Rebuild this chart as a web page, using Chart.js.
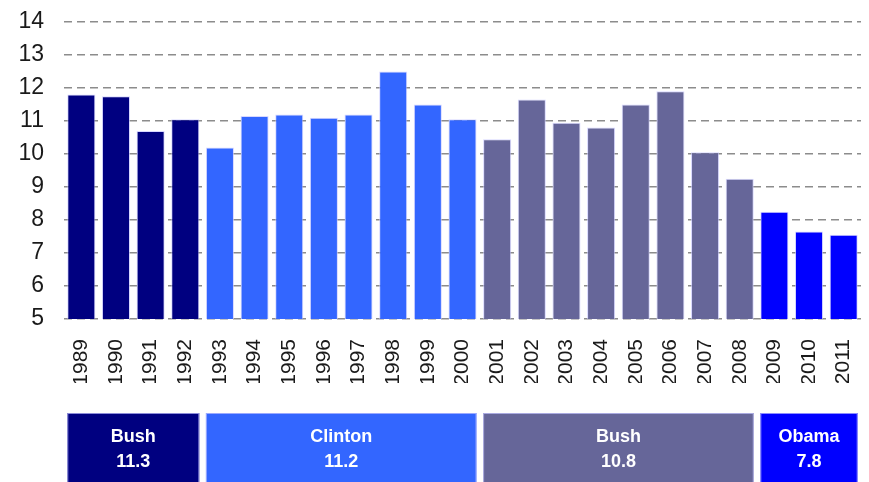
<!DOCTYPE html>
<html>
<head>
<meta charset="utf-8">
<script src="https://cdn.jsdelivr.net/npm/chart.js@4/dist/chart.umd.min.js"></script>
<style>
  html, body { margin:0; padding:0; background:#fff; }
  #wrap { width:869px; height:482px; position:relative; }
</style>
</head>
<body>
<div id="wrap"><canvas id="rateChart"></canvas></div>
<script>
// yearly values
const years = ['1989','1990','1991','1992','1993','1994','1995','1996','1997','1998','1999','2000',
               '2001','2002','2003','2004','2005','2006','2007','2008','2009','2010','2011'];
const rates = [11.8, 11.75, 10.7, 11.05, 10.2, 11.15, 11.2, 11.1, 11.2, 12.5, 11.5, 11.05,
               10.45, 11.65, 10.95, 10.8, 11.5, 11.9, 10.05, 9.25, 8.25, 7.65, 7.55];
const yTicks = [5, 6, 7, 8, 9, 10, 11, 12, 13, 14];

// presidential terms
const termNames = ['Bush', 'Clinton', 'Bush', 'Obama'];
const termFirst = ['1989', '1993', '2001', '2009'];
const termLast  = ['1992', '2000', '2008', '2011'];
const termAvg   = ['11.3', '11.2', '10.8', '7.8'];
const termColors = ['#000080', '#3366ff', '#666699', '#0000ff'];

function termOf(year){
  for (let t = 0; t < termFirst.length; t++) {
    if (year >= termFirst[t] && year <= termLast[t]) return t;
  }
  return 0;
}
const barColors = years.map(y => termColors[termOf(y)]);

// boxes under the axis, one per term, spanning its bars
const termBoxes = {
  id: 'termBoxes',
  afterDraw(chart){
    const ctx = chart.ctx;
    const bars = chart.getDatasetMeta(0).data;
    const top = 413, bottom = chart.height;
    ctx.save();
    termNames.forEach((name, t) => {
      const a = bars[years.indexOf(termFirst[t])];
      const b = bars[years.indexOf(termLast[t])];
      const left = a.x - a.width / 2;
      const right = b.x + b.width / 2;
      ctx.fillStyle = termColors[t];
      ctx.fillRect(left, top, right - left, bottom - top);
      ctx.strokeStyle = 'rgba(200,200,255,0.7)';
      ctx.lineWidth = 1;
      ctx.strokeRect(left + 0.5, top + 0.5, right - left - 1, bottom - top);
      const cx = (left + right) / 2;
      ctx.fillStyle = '#fff';
      ctx.font = 'bold 18px "Liberation Sans", Arial, sans-serif';
      ctx.textAlign = 'center';
      ctx.textBaseline = 'middle';
      ctx.fillText(name, cx, 437);
      ctx.fillText(termAvg[t], cx, 462);
    });
    ctx.restore();
  }
};

new Chart(document.getElementById('rateChart'), {
  type: 'bar',
  data: {
    labels: years,
    datasets: [{
      data: rates,
      backgroundColor: barColors,
      borderColor: 'rgba(200,200,255,0.7)',
      borderWidth: 1,
      barPercentage: 0.81,
      categoryPercentage: 1
    }]
  },
  options: {
    responsive: true,
    maintainAspectRatio: false,
    animation: false,
    layout: { padding: { left: 18, top: 22, right: 8, bottom: 99 } },
    plugins: { legend: { display: false }, tooltip: { enabled: false } },
    scales: {
      x: {
        grid: { display: false, drawTicks: false },
        border: { display: false },
        afterFit(axis){ axis.height = 64; axis.paddingLeft = 0; axis.paddingRight = 0; },
        ticks: {
          color: '#1a1a1a',
          font: { family: '"Liberation Sans", Arial, sans-serif', size: 21 },
          minRotation: 90, maxRotation: 90,
          autoSkip: false,
          padding: 20
        }
      },
      y: {
        min: 5, max: 14,
        afterBuildTicks(axis){ axis.ticks = yTicks.map(v => ({ value: v })); },
        afterFit(axis){ axis.width = 46; axis.paddingTop = 0; axis.paddingBottom = 0; },
        grid: { color: '#8c8c8c', lineWidth: 1.5, drawTicks: false },
        border: { display: false, dash: [8, 5] },
        ticks: {
          color: '#1a1a1a',
          font: { family: '"Liberation Sans", Arial, sans-serif', size: 23 },
          autoSkip: false,
          padding: 20
        }
      }
    }
  },
  plugins: [termBoxes]
});
</script>
</body>
</html>
